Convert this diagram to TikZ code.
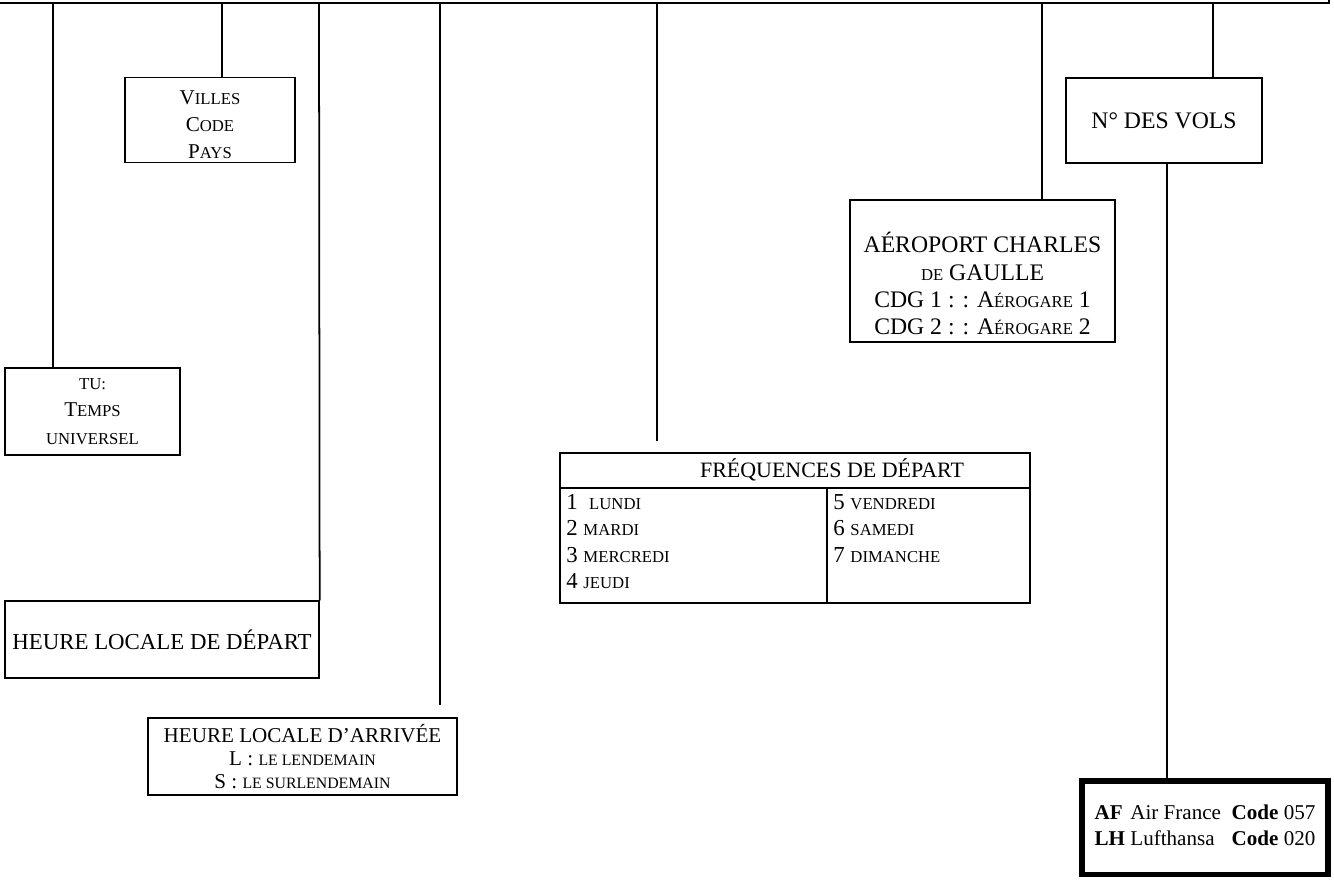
\documentclass[tikz,border=0pt]{standalone}
\usepackage{fontspec}
\setmainfont{Liberation Serif}
\usetikzlibrary{positioning}

% fake small caps: smaller capitals
\newcommand\sk[1]{{\fontsize{9.5}{11}\selectfont #1}}
\newcommand\grand{\fontsize{13}{15}\selectfont}

\begin{document}
\begin{tikzpicture}[x=0.02cm, y=-0.02cm]
    \tikzstyle{boite} = [rectangle, draw=black, line width=0.8pt, align=center, inner sep=2pt, font=\grand]
    \tikzstyle{lien} = [draw=black, line width=1pt]
    \tikzstyle{liste} = [anchor=north west, align=left, inner sep=0pt, font=\grand]

    \useasboundingbox (0,0) rectangle (1334,879);

    % bord du tableau au-dessus
    \draw[lien] (0,3) -- (1329,3) -- (1329,0);

    \coordinate (t1) at (53,3);
    \coordinate (t2) at (222,3);
    \coordinate (t3) at (319,3);
    \coordinate (t4) at (440,3);
    \coordinate (t5) at (657,3);
    \coordinate (t6) at (1042,3);
    \coordinate (t7) at (1213,3);
    \coordinate (b4) at (440,705);
    \coordinate (b5) at (657,441);

    \node (villes) [boite, minimum width=3.4cm, minimum height=1.7cm, font=\fontsize{12}{15.5}\selectfont] at (210,120)
        {\rule{0pt}{13pt}V\sk{ILLES}\\C\sk{ODE}\\P\sk{AYS}};
    \node (vols) [boite, minimum width=3.92cm, minimum height=1.7cm, font=\fontsize{13.5}{15}\selectfont] at (1164,120.5) {N° DES VOLS};
    \node (aero) [boite, minimum width=5.3cm, minimum height=2.84cm, font=\fontsize{13.5}{15.5}\selectfont] at (982.5,271)
        {\rule{0pt}{26pt}AÉROPORT CHARLES\\\sk{DE} GAULLE\\CDG 1 : : A\sk{ÉROGARE} 1\\CDG 2 : : A\sk{ÉROGARE} 2};
    \node (tu) [boite, minimum width=3.5cm, minimum height=1.74cm, font=\fontsize{12}{15.5}\selectfont] at (92.5,411.5)
        {\sk{TU:}\\T\sk{EMPS}\\\sk{UNIVERSEL}};

    % frequences
    \node (freq) [boite, minimum width=9.4cm, minimum height=3cm] at (795,528) {};
    \node (freqtete) [font=\fontsize{12.5}{14}\selectfont, inner sep=0pt] at (832,470) {FRÉQUENCES DE DÉPART};
    \coordinate (sep) at (827,488);
    \draw[boite] (freq.west |- sep) -- (freq.east |- sep);
    \draw[boite] (sep) -- (sep |- freq.south);
    \node (jours1) [liste] at (566,494)
        {1 \ \sk{LUNDI}\\2 \sk{MARDI}\\3 \sk{MERCREDI}\\4 \sk{JEUDI}};
    \node (jours2) [liste] at (833,494)
        {5 \sk{VENDREDI}\\6 \sk{SAMEDI}\\7 \sk{DIMANCHE}};

    \node (depart) [boite, minimum width=6.28cm, minimum height=1.54cm] at (162,639.5) {HEURE LOCALE DE DÉPART};
    \node (arrivee) [boite, minimum width=6.18cm, minimum height=1.54cm, font=\fontsize{12}{13}\selectfont] at (302.5,756.5)
        {HEURE LOCALE D’ARRIVÉE\\L : {\fontsize{9}{10}\selectfont LE LENDEMAIN}\\S : {\fontsize{9}{10}\selectfont LE SURLENDEMAIN}};

    \node (cies) [rectangle, draw=black, line width=3.4pt, minimum width=4.92cm, minimum height=1.88cm, font=\fontsize{12}{15}\selectfont] at (1205,827.5)
        {\begin{tabular}{@{}l@{\ }l@{\ \ }l@{}}
            \textbf{AF} & Air France & \textbf{Code} 057\\
            \textbf{LH} & Lufthansa & \textbf{Code} 020
         \end{tabular}};

    \draw[lien] (t1) -- (t1 |- tu.north);
    \draw[lien] (t2) -- (t2 |- villes.north);
    \draw[lien] (t3) -- (depart.north east);
    \draw[lien] (t4) -- (b4);
    \draw[lien] (t5) -- (b5);
    \draw[lien] (t6) -- (t6 |- aero.north);
    \draw[lien] (t7) -- (t7 |- vols.north);
    \draw[lien] ([xshift=0.06cm]vols.south) -- ([xshift=0.06cm]vols.south |- cies.north);
\end{tikzpicture}
\end{document}
